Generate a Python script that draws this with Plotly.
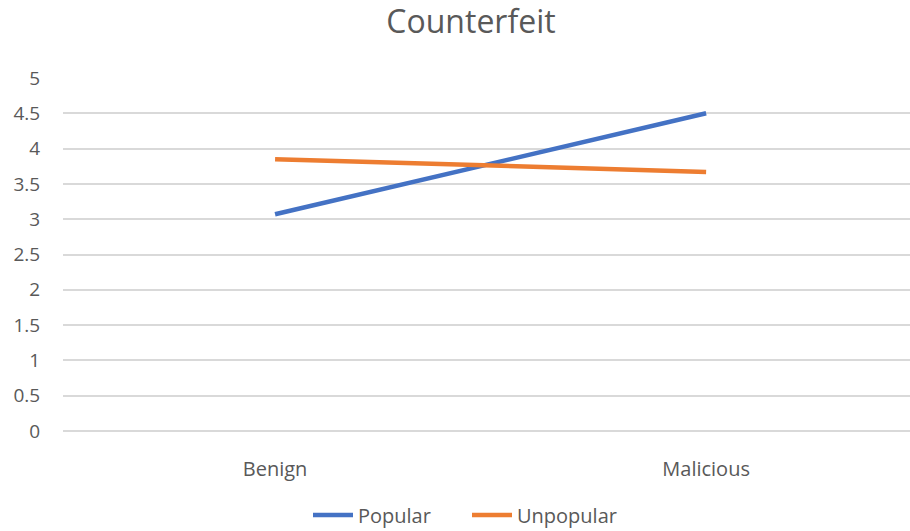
import plotly.graph_objects as go

categories = ["Benign", "Malicious"]
popular = [3.07, 4.50]
unpopular = [3.85, 3.67]
y_ticks = [0, 0.5, 1, 1.5, 2, 2.5, 3, 3.5, 4, 4.5, 5]
y_tick_labels = ["0", "0.5", "1", "1.5", "2", "2.5", "3", "3.5", "4", "4.5", "5"]

font_family = "Open Sans, Liberation Sans, sans-serif"
text_color = "#595959"

fig = go.Figure()
fig.add_trace(go.Scatter(x=categories, y=popular, mode="lines", name="Popular",
                         line=dict(color="#4472C4", width=4.5)))
fig.add_trace(go.Scatter(x=categories, y=unpopular, mode="lines", name="Unpopular",
                         line=dict(color="#ED7D31", width=4.5)))

fig.update_layout(
    width=910, height=531,
    margin=dict(l=63, r=0, t=78, b=100),
    paper_bgcolor="white", plot_bgcolor="white",
    font=dict(family=font_family, color=text_color, size=19),
    title=dict(text="Counterfeit", x=471/910, xref="container", xanchor="center",
               y=1 - 22/531, yref="container", yanchor="middle",
               font=dict(size=32, color=text_color, family=font_family)),
    showlegend=True,
    legend=dict(orientation="h", x=467/910, xref="container", xanchor="center",
                y=1 - 515/531, yref="container", yanchor="middle",
                font=dict(size=20, color=text_color), itemwidth=40,
                entrywidth=104, entrywidthmode="pixels",
                tracegroupgap=0),
    xaxis=dict(type="category", range=[-0.492, 1.473], showgrid=False,
               showline=False, zeroline=False, ticks="outside", ticklen=0,
               tickfont=dict(size=20, color=text_color), ticklabelstandoff=20),
    yaxis=dict(range=[0, 5], tickvals=y_ticks, ticktext=y_tick_labels,
               showgrid=True, gridcolor="#d9d9d9", gridwidth=1.5,
               zeroline=True, zerolinecolor="#d9d9d9", zerolinewidth=1.5,
               showline=False, ticks="outside", ticklen=0,
               tickfont=dict(size=19, color=text_color), ticklabelstandoff=18),
)

fig.write_html("out.html", config={"displayModeBar": False},
               post_script="document.body.style.margin='0';")
